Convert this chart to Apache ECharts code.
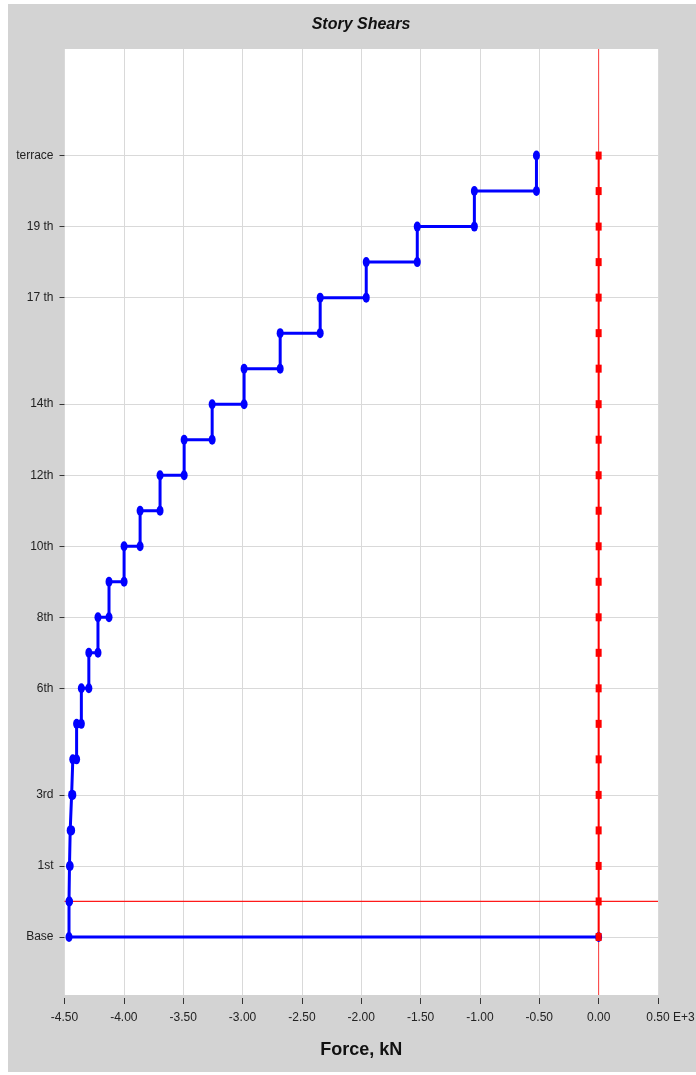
<!DOCTYPE html>
<html>
<head>
<meta charset="utf-8">
<script src="https://cdn.jsdelivr.net/npm/echarts@6/dist/echarts.min.js"></script>
<style>
  html, body { margin: 0; padding: 0; background: #ffffff; overflow: hidden; }
  #chart { position: absolute; left: 8px; top: 4px; width: 688px; height: 1068px; }
</style>
</head>
<body>
<div id="chart"></div>
<script>
// ---- data (force values in kN x 10^3) ----
const chartTitle = 'Story Shears';
const xAxisTitle = 'Force, kN';
const xMin = -4.5, xMax = 0.5, xStep = 0.5;
const xTickValues = [-4.5, -4.0, -3.5, -3.0, -2.5, -2.0, -1.5, -1.0, -0.5, 0.0, 0.5];
const xExponentLabel = 'E+3';
// level index 0 = Base ... 22 = terrace
const tickLevels = [0, 2, 4, 7, 9, 11, 13, 15, 18, 20, 22];
const tickLabels = ['Base', '1st', '3rd', '6th', '8th', '10th', '12th', '14th', '17 th', '19 th', 'terrace'];
// story shear of the story below each level 1..22 (bottom to top)
const storyShear = [-4.462, -4.458, -4.452, -4.440, -4.430, -4.398, -4.358, -4.295, -4.218, -4.125,
                    -3.998, -3.863, -3.695, -3.492, -3.256, -2.987, -2.683, -2.346, -1.958, -1.528,
                    -1.047, -0.524];
const baseShearEnd = 0.0;
// second case (red) : shear at every level 0..22
const redShear = [0, 0, 0, 0, 0, 0, 0, 0, 0, 0, 0, 0, 0, 0, 0, 0, 0, 0, 0, 0, 0, 0, 0];
const groundLevel = 1;
const xRefValue = 0;
const yMin = -1.634, yMax = 25.0;

// ---- build step points ----
const bluePts = [[baseShearEnd, 0]];
for (let k = 1; k <= storyShear.length; k++) {
  bluePts.push([storyShear[k - 1], k - 1]);
  bluePts.push([storyShear[k - 1], k]);
}
const redPts = redShear.map((v, i) => [v, i]);
const groundPts = [[xMin, groundLevel], [xMax, groundLevel]];
const refPts = [[xRefValue, yMin], [xRefValue, yMax]];

const labelFont = "'Liberation Sans', Arial, sans-serif";

const chart = echarts.init(document.getElementById('chart'), null, { renderer: 'canvas' });
chart.setOption({
  backgroundColor: '#d3d3d3',
  animation: false,
  graphic: [{
    type: 'text', x: 353, y: 21,
    style: { text: chartTitle, textAlign: 'center', textVerticalAlign: 'middle',
             font: "italic bold 16px 'Liberation Sans', Arial, sans-serif", fill: '#111' }
  }],
  grid: {
    left: 56.5, top: 45, width: 593.5, height: 946,
    show: true, backgroundColor: '#ffffff', borderWidth: 0,
    containLabel: false, outerBoundsMode: 'none'
  },
  xAxis: {
    type: 'value', min: xMin, max: xMax, interval: xStep,
    position: 'bottom', offset: 3,
    axisLine: { show: false, onZero: false },
    axisTick: { show: true, length: 6, lineStyle: { color: '#333', width: 1 } },
    axisLabel: {
      margin: 14, color: '#222', fontSize: 12, fontFamily: labelFont,
      customValues: xTickValues,
      formatter: function (v) {
        const s = v.toFixed(2);
        if (Math.abs(v - xTickValues[xTickValues.length - 1]) < 1e-9) {
          return '{h|' + xExponentLabel + ' }' + s + ' ' + xExponentLabel;
        }
        return s;
      },
      rich: { h: { color: 'transparent', fontSize: 12, fontFamily: labelFont } }
    },
    splitLine: { show: true, lineStyle: { color: '#d9d9d9', width: 1 } },
    name: xAxisTitle, nameLocation: 'middle', nameGap: 43,
    nameTextStyle: { fontSize: 18, fontWeight: 'bold', color: '#111', fontFamily: labelFont }
  },
  yAxis: {
    type: 'value', min: yMin, max: yMax,
    position: 'left',
    axisLine: { show: false, onZero: false },
    axisTick: { show: true, length: 5, customValues: tickLevels, lineStyle: { color: '#333' } },
    axisLabel: {
      margin: 11, color: '#222', fontSize: 12, fontFamily: labelFont,
      customValues: tickLevels,
      formatter: function (v) {
        const i = tickLevels.indexOf(Math.round(v));
        return i >= 0 ? tickLabels[i] : '';
      }
    },
    splitLine: { show: true, lineStyle: { color: '#d9d9d9', width: 1 } }
  },
  series: [
    {
      type: 'line', data: groundPts, z: 2, symbol: 'none', silent: true,
      lineStyle: { color: '#ff1a1a', width: 1.2 }
    },
    {
      type: 'line', data: refPts, z: 2, symbol: 'none', silent: true,
      lineStyle: { color: '#ff3a3a', width: 1 }
    },
    {
      type: 'line', data: bluePts, z: 3,
      symbol: 'circle', symbolSize: [7, 10],
      lineStyle: { color: '#0000ff', width: 3 },
      itemStyle: { color: '#0000ff' }
    },
    {
      type: 'line', data: redPts, z: 4,
      symbol: 'rect', symbolSize: [6, 8],
      lineStyle: { color: '#ff0000', width: 2 },
      itemStyle: { color: '#ff0000' }
    }
  ]
});
</script>
</body>
</html>
